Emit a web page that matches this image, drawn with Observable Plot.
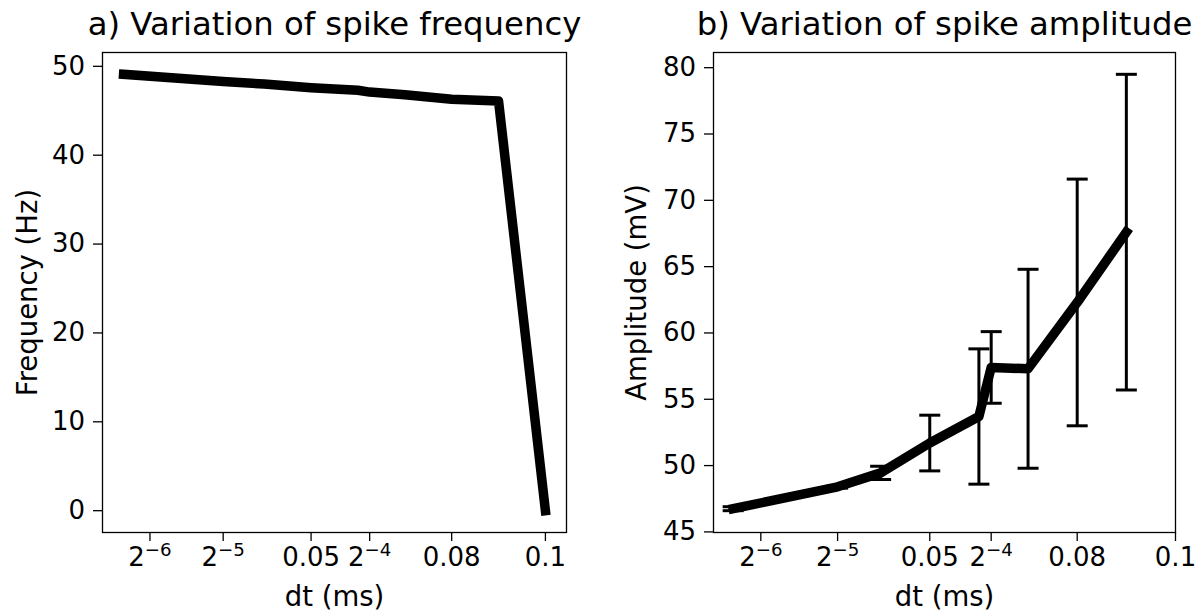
<!DOCTYPE html>
<html><head><meta charset="utf-8">
<script src="https://cdn.jsdelivr.net/npm/d3@7"></script>
<script src="https://cdn.jsdelivr.net/npm/@observablehq/plot@0.6"></script>
<style>
html,body{margin:0;padding:0;background:#fff;}
#wrap{position:relative;width:1203px;height:613px;overflow:hidden;font-family:"DejaVu Sans",sans-serif;}
#a{position:absolute;left:0;top:0;}
#b{position:absolute;left:601px;top:0;}
svg{overflow:visible;display:block;}
</style></head><body><div id="wrap"><div id="a"></div><div id="b"></div></div>
<script>
// ---- data ----
const dtFreq = [0.01, 0.03125, 0.04, 0.05, 0.06, 0.0625, 0.07, 0.08, 0.09, 0.1];
const freqHz = [49.1, 48.3, 48.0, 47.6, 47.3, 47.1, 46.8, 46.3, 46.1, 0.0];
const dtAmp = [0.01, 0.03125, 0.04, 0.05, 0.06, 0.0625, 0.07, 0.08, 0.09];
const ampMean = [46.75, 48.4, 49.45, 51.7, 53.7, 57.4, 57.3, 62.3, 67.6];
const ampErr = [0.15, 0.1, 0.5, 2.1, 5.1, 2.7, 7.5, 9.3, 11.9];
const xTickValues = [2 ** -6, 2 ** -5, 0.05, 2 ** -4, 0.08, 0.1];
const xTickLabels = ["2^-6", "2^-5", "0.05", "2^-4", "0.08", "0.1"];
const freqTicks = [0, 10, 20, 30, 40, 50];
const ampTicks = [45, 50, 55, 60, 65, 70, 75, 80];
const titles = ["a) Variation of spike frequency", "b) Variation of spike amplitude"];
const xLabel = "dt (ms)";
const yLabels = ["Frequency (Hz)", "Amplitude (mV)"];

// ---- helpers ----
const font = '"DejaVu Sans", sans-serif';
const padded = (lo, hi) => { const m = 0.05 * (hi - lo); return [lo - m, hi + m]; };
const fmtX = d => xTickLabels[xTickValues.indexOf(d)];
const capSymbol = { draw(ctx, size) { const w = Math.sqrt(size / Math.PI); ctx.moveTo(-w, 0); ctx.lineTo(w, 0); } };
const FS = 26, LFS = 27.5, TFS = 32.3, TS = 9;
const style = { fontFamily: font, fontSize: FS + "px", color: "black", background: "transparent", overflow: "visible" };

function supify(svg) {
  d3.select(svg).selectAll("text").each(function () {
    const m = /^2\^(-?\d+)$/.exec(this.textContent);
    if (m) {
      const el = d3.select(this);
      el.selectAll("*").remove();
      el.text(null);
      el.append("tspan").text("2");
      el.append("tspan").attr("font-size", "0.7em").attr("dy", "-0.55em").text(m[1].replace("-", "\u2212"));
    }
  });
}

function labels(i, dxY) {
  return [
    Plot.text([titles[i]], { text: d => d, frameAnchor: "top", dy: -18, lineAnchor: "bottom", textAnchor: "middle", fontSize: TFS, fill: "black" }),
    Plot.text([xLabel], { text: d => d, frameAnchor: "bottom", dy: 73, lineAnchor: "bottom", textAnchor: "middle", fontSize: LFS, fill: "black" }),
    Plot.text([yLabels[i]], { text: d => d, frameAnchor: "left", dx: dxY, rotate: -90, lineAnchor: "middle", textAnchor: "middle", fontSize: LFS, fill: "black" })
  ];
}

// ---- panel a ----
const freqData = dtFreq.map((d, i) => ({ dt: d, f: freqHz[i] }));
const xDomA = padded(d3.min(dtFreq), d3.max(dtFreq));
const yDomA = padded(d3.min(freqHz), d3.max(freqHz));
const plotA = Plot.plot({
  width: 601, height: 613,
  marginLeft: 102, marginRight: 35, marginTop: 52, marginBottom: 81,
  style,
  x: { domain: xDomA },
  y: { domain: yDomA },
  marks: [
    Plot.axisX(xTickValues, { tickSize: TS, tickPadding: 6, tickFormat: fmtX, label: null, strokeWidth: 1.3 }),
    Plot.axisY(freqTicks, { tickSize: TS, tickPadding: 8.5, label: null, strokeWidth: 1.3 }),
    Plot.line(freqData, { x: "dt", y: "f", stroke: "black", strokeWidth: 9.5, strokeLinecap: "square", strokeLinejoin: "round" }),
    Plot.frame({ stroke: "black", strokeWidth: 1.3 }),
    ...labels(0, -74)
  ]
});
supify(plotA);
document.getElementById("a").appendChild(plotA);

// ---- panel b ----
const ampData = dtAmp.map((d, i) => ({ dt: d, m: ampMean[i], lo: ampMean[i] - ampErr[i], hi: ampMean[i] + ampErr[i] }));
const xb = padded(d3.min(dtAmp), d3.max(dtAmp));
const xDomB = [Math.min(xb[0], d3.min(xTickValues)), Math.max(xb[1], d3.max(xTickValues))];
const yDomB = padded(d3.min(ampData, d => d.lo), d3.max(ampData, d => d.hi));
const plotB = Plot.plot({
  width: 602, height: 613,
  marginLeft: 112, marginRight: 28, marginTop: 52, marginBottom: 81,
  style,
  x: { domain: xDomB },
  y: { domain: yDomB },
  marks: [
    Plot.axisX(xTickValues, { tickSize: TS, tickPadding: 6, tickFormat: fmtX, label: null, strokeWidth: 1.3 }),
    Plot.axisY(ampTicks, { tickSize: TS, tickPadding: 8.5, label: null, strokeWidth: 1.3 }),
    Plot.ruleX(ampData, { x: "dt", y1: "lo", y2: "hi", stroke: "black", strokeWidth: 3 }),
    Plot.dot(ampData, { x: "dt", y: "hi", symbol: capSymbol, r: 10.5, stroke: "black", strokeWidth: 3, fill: "none" }),
    Plot.dot(ampData, { x: "dt", y: "lo", symbol: capSymbol, r: 10.5, stroke: "black", strokeWidth: 3, fill: "none" }),
    Plot.line(ampData, { x: "dt", y: "m", stroke: "black", strokeWidth: 9.5, strokeLinecap: "square", strokeLinejoin: "round" }),
    Plot.frame({ stroke: "black", strokeWidth: 1.3 }),
    ...labels(1, -76)
  ]
});
supify(plotB);
document.getElementById("b").appendChild(plotB);
</script>
</body></html>
